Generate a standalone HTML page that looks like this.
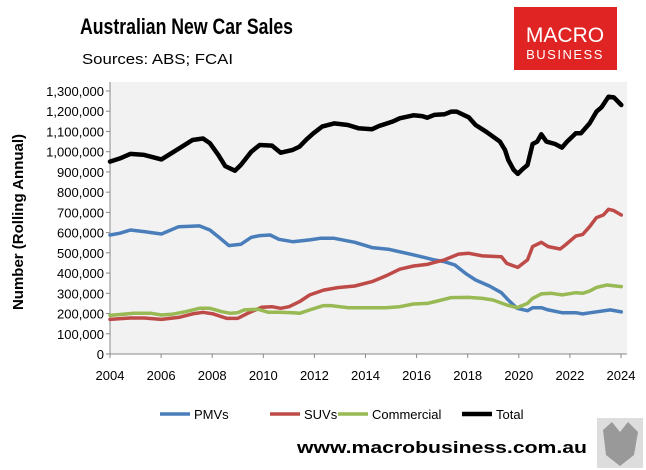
<!DOCTYPE html>
<html><head><meta charset="utf-8"><style>
body{margin:0;background:#fff;font-family:"Liberation Sans",sans-serif}
#c{position:relative;width:646px;height:470px;overflow:hidden}
</style></head><body>
<div id="c">
<svg id="s" width="646" height="470">
<text x="80" y="34" font-size="22" font-weight="bold" textLength="213" lengthAdjust="spacingAndGlyphs">Australian New Car Sales</text>
<text x="82" y="64" font-size="15" textLength="151" lengthAdjust="spacingAndGlyphs">Sources: ABS; FCAI</text>
<g>
<rect x="514" y="7" width="103" height="63" fill="#e02424"/>
<text x="565" y="42" font-size="21" fill="#fff" text-anchor="middle">MACRO</text>
<text x="565" y="59" font-size="13" fill="#fff" text-anchor="middle" letter-spacing="1.5">BUSINESS</text>
</g>
<rect x="110" y="82" width="517" height="272" fill="#f2f2f2"/>
<g id="axes"></g>
<g id="lines"></g>
<text transform="translate(23,222) rotate(-90)" font-size="15" font-weight="bold" text-anchor="middle">Number (Rolling Annual)</text>
<g id="legend"></g>
<text x="297" y="453" font-size="17" font-weight="bold" textLength="290" lengthAdjust="spacingAndGlyphs">www.macrobusiness.com.au</text>
<g>
<rect x="597" y="418" width="46" height="50" fill="#ddd"/>
<path d="M603 430 L612 422 L620 432 L628 422 L638 432 L634 455 L620 466 L606 455Z" fill="#999"/>
</g>
</svg>
</div>
<script>
const yearTicks=[2004,2006,2008,2010,2012,2014,2016,2018,2020,2022,2024];
const yTicks=[0,100000,200000,300000,400000,500000,600000,700000,800000,900000,1000000,1100000,1200000,1300000];
const totalYrs=[0,.39,.8,1.34,2.01,2.82,3.23,3.64,3.91,4.24,4.51,4.89,5.12,5.53,5.86,6.34,6.68,7.15,7.42,7.69,7.96,8.3,8.77,9.31,9.72,10.26,10.53,11.07,11.34,11.88,12.22,12.42,12.69,13.09,13.36,13.57,14.04,14.31,14.72,15.26,15.46,15.59,15.8,15.96,16.14,16.34,16.54,16.72,16.88,17.08,17.42,17.69,17.89,18.23,18.43,18.77,19.04,19.24,19.51,19.72,20.01];
const totalVals=[951,967,989,984,962,1025,1058,1065,1042,984,929,906,934,1000,1033,1030,995,1009,1025,1061,1091,1124,1140,1132,1116,1111,1127,1149,1165,1180,1176,1168,1182,1185,1198,1198,1170,1132,1099,1050,1009,959,910,890,913,934,1038,1050,1086,1050,1038,1020,1050,1091,1091,1140,1198,1220,1272,1269,1231];
const pmvYrs=[0,.39,.8,1.34,2.01,2.69,3.5,3.91,4.24,4.65,5.12,5.53,5.86,6.27,6.61,7.15,7.82,8.23,8.77,9.58,10.26,10.93,11.74,12.28,12.69,13.09,13.5,13.91,14.31,14.85,15.32,15.59,15.93,16.34,16.54,16.88,17.15,17.69,18.23,18.5,18.91,19.58,20.01];
const pmvVals=[588,597,613,605,593,629,633,613,580,536,542,577,585,588,567,555,564,572,572,552,526,517,494,478,465,456,440,399,366,336,303,267,226,214,229,229,218,204,204,198,206,218,208];
const suvYrs=[0,.8,1.34,2.01,2.69,3.23,3.64,4.04,4.58,4.99,5.39,5.93,6.34,6.68,7.01,7.42,7.82,8.36,8.91,9.58,10.26,10.8,11.34,11.88,12.42,12.69,13.09,13.64,14.04,14.58,15.32,15.53,15.96,16.34,16.54,16.88,17.15,17.62,17.82,18.23,18.5,18.77,19.04,19.31,19.51,19.72,20.01];
const suvVals=[171,178,178,171,181,198,206,198,176,176,201,231,234,226,234,259,292,316,328,336,358,386,419,435,443,453,465,494,498,485,481,448,428,465,531,552,531,519,539,583,591,629,674,687,715,709,687];
const comYrs=[0,.93,1.61,2.01,2.42,2.96,3.5,3.91,4.38,4.72,4.99,5.26,5.8,6.2,6.61,7.15,7.42,7.82,8.36,8.64,9.31,10.12,10.8,11.34,11.88,12.42,12.82,13.36,14.04,14.58,14.99,15.53,15.93,16.34,16.54,16.88,17.28,17.69,18.23,18.5,18.77,19.04,19.45,20.01];
const comVals=[191,201,201,193,196,209,226,226,209,201,204,218,221,206,206,204,201,218,239,239,229,229,229,234,247,250,262,279,280,275,267,242,229,250,275,297,300,292,303,300,311,329,341,333];
const NS="http://www.w3.org/2000/svg";
const X0=110,X1=621,Y0=354,Y1=91;
function xs(yr){return X0+(yr-2004)/20*(X1-X0);}
function ys(v){return Y0-v/1300000*(Y0-Y1);}
function mk(tag,at,p){const e=document.createElementNS(NS,tag);for(const k in at)e.setAttribute(k,at[k]);p.appendChild(e);return e;}
const ax=document.getElementById('axes');
const yl=mk('line',{x1:X0,y1:82,x2:X0,y2:Y0,stroke:'#888','stroke-width':1},ax);


const xl=mk('line',{x1:X0,y1:Y0,x2:627,y2:Y0,stroke:'#888','stroke-width':1},ax);


yTicks.forEach(v=>{
 mk('line',{x1:X0-4,y1:ys(v),x2:X0,y2:ys(v),stroke:'#888'},ax);
 const t=mk('text',{x:104,y:ys(v)+5,'font-size':13,'text-anchor':'end'},ax);
 t.textContent=v.toLocaleString('en-US');
 
 
});
yearTicks.forEach(y=>{
 mk('line',{x1:xs(y),y1:Y0,x2:xs(y),y2:Y0+4,stroke:'#888'},ax);
 const t=mk('text',{x:xs(y),y:380,'font-size':13,'text-anchor':'middle'},ax);
 t.textContent=y;
 
 
});
const lg=document.getElementById('lines');
function series(yrs,vals,col,w,name){
 const d=yrs.map((y,i)=>(i?'L':'M')+xs(2004+y).toFixed(1)+' '+ys(vals[i]*1000).toFixed(1)).join(' ');
 const p=mk('path',{d:d,fill:'none',stroke:col,'stroke-width':w,'stroke-linejoin':'round','stroke-linecap':'round'},lg);
 
 
}
series(pmvYrs,pmvVals,'#4a7ebb',3.5,'pmvs-line');
series(suvYrs,suvVals,'#be4b48',3.5,'suvs-line');
series(comYrs,comVals,'#98b954',3.5,'commercial-line');
series(totalYrs,totalVals,'#000',4.5,'total-line');
const leg=document.getElementById('legend');
const legNames=['PMVs','SUVs','Commercial','Total'];
const legCols=['#4a7ebb','#be4b48','#98b954','#000'];
const legX=[160,270,338,462];
legNames.forEach((n,i)=>{
 const g=mk('g',{},leg);
 
 
 mk('line',{x1:legX[i],y1:414,x2:legX[i]+30,y2:414,stroke:legCols[i],'stroke-width':i==3?4.5:3.5},g);
 const t=mk('text',{x:legX[i]+34,y:419,'font-size':13},g);
 t.textContent=n;
});
</script>
</body></html>
